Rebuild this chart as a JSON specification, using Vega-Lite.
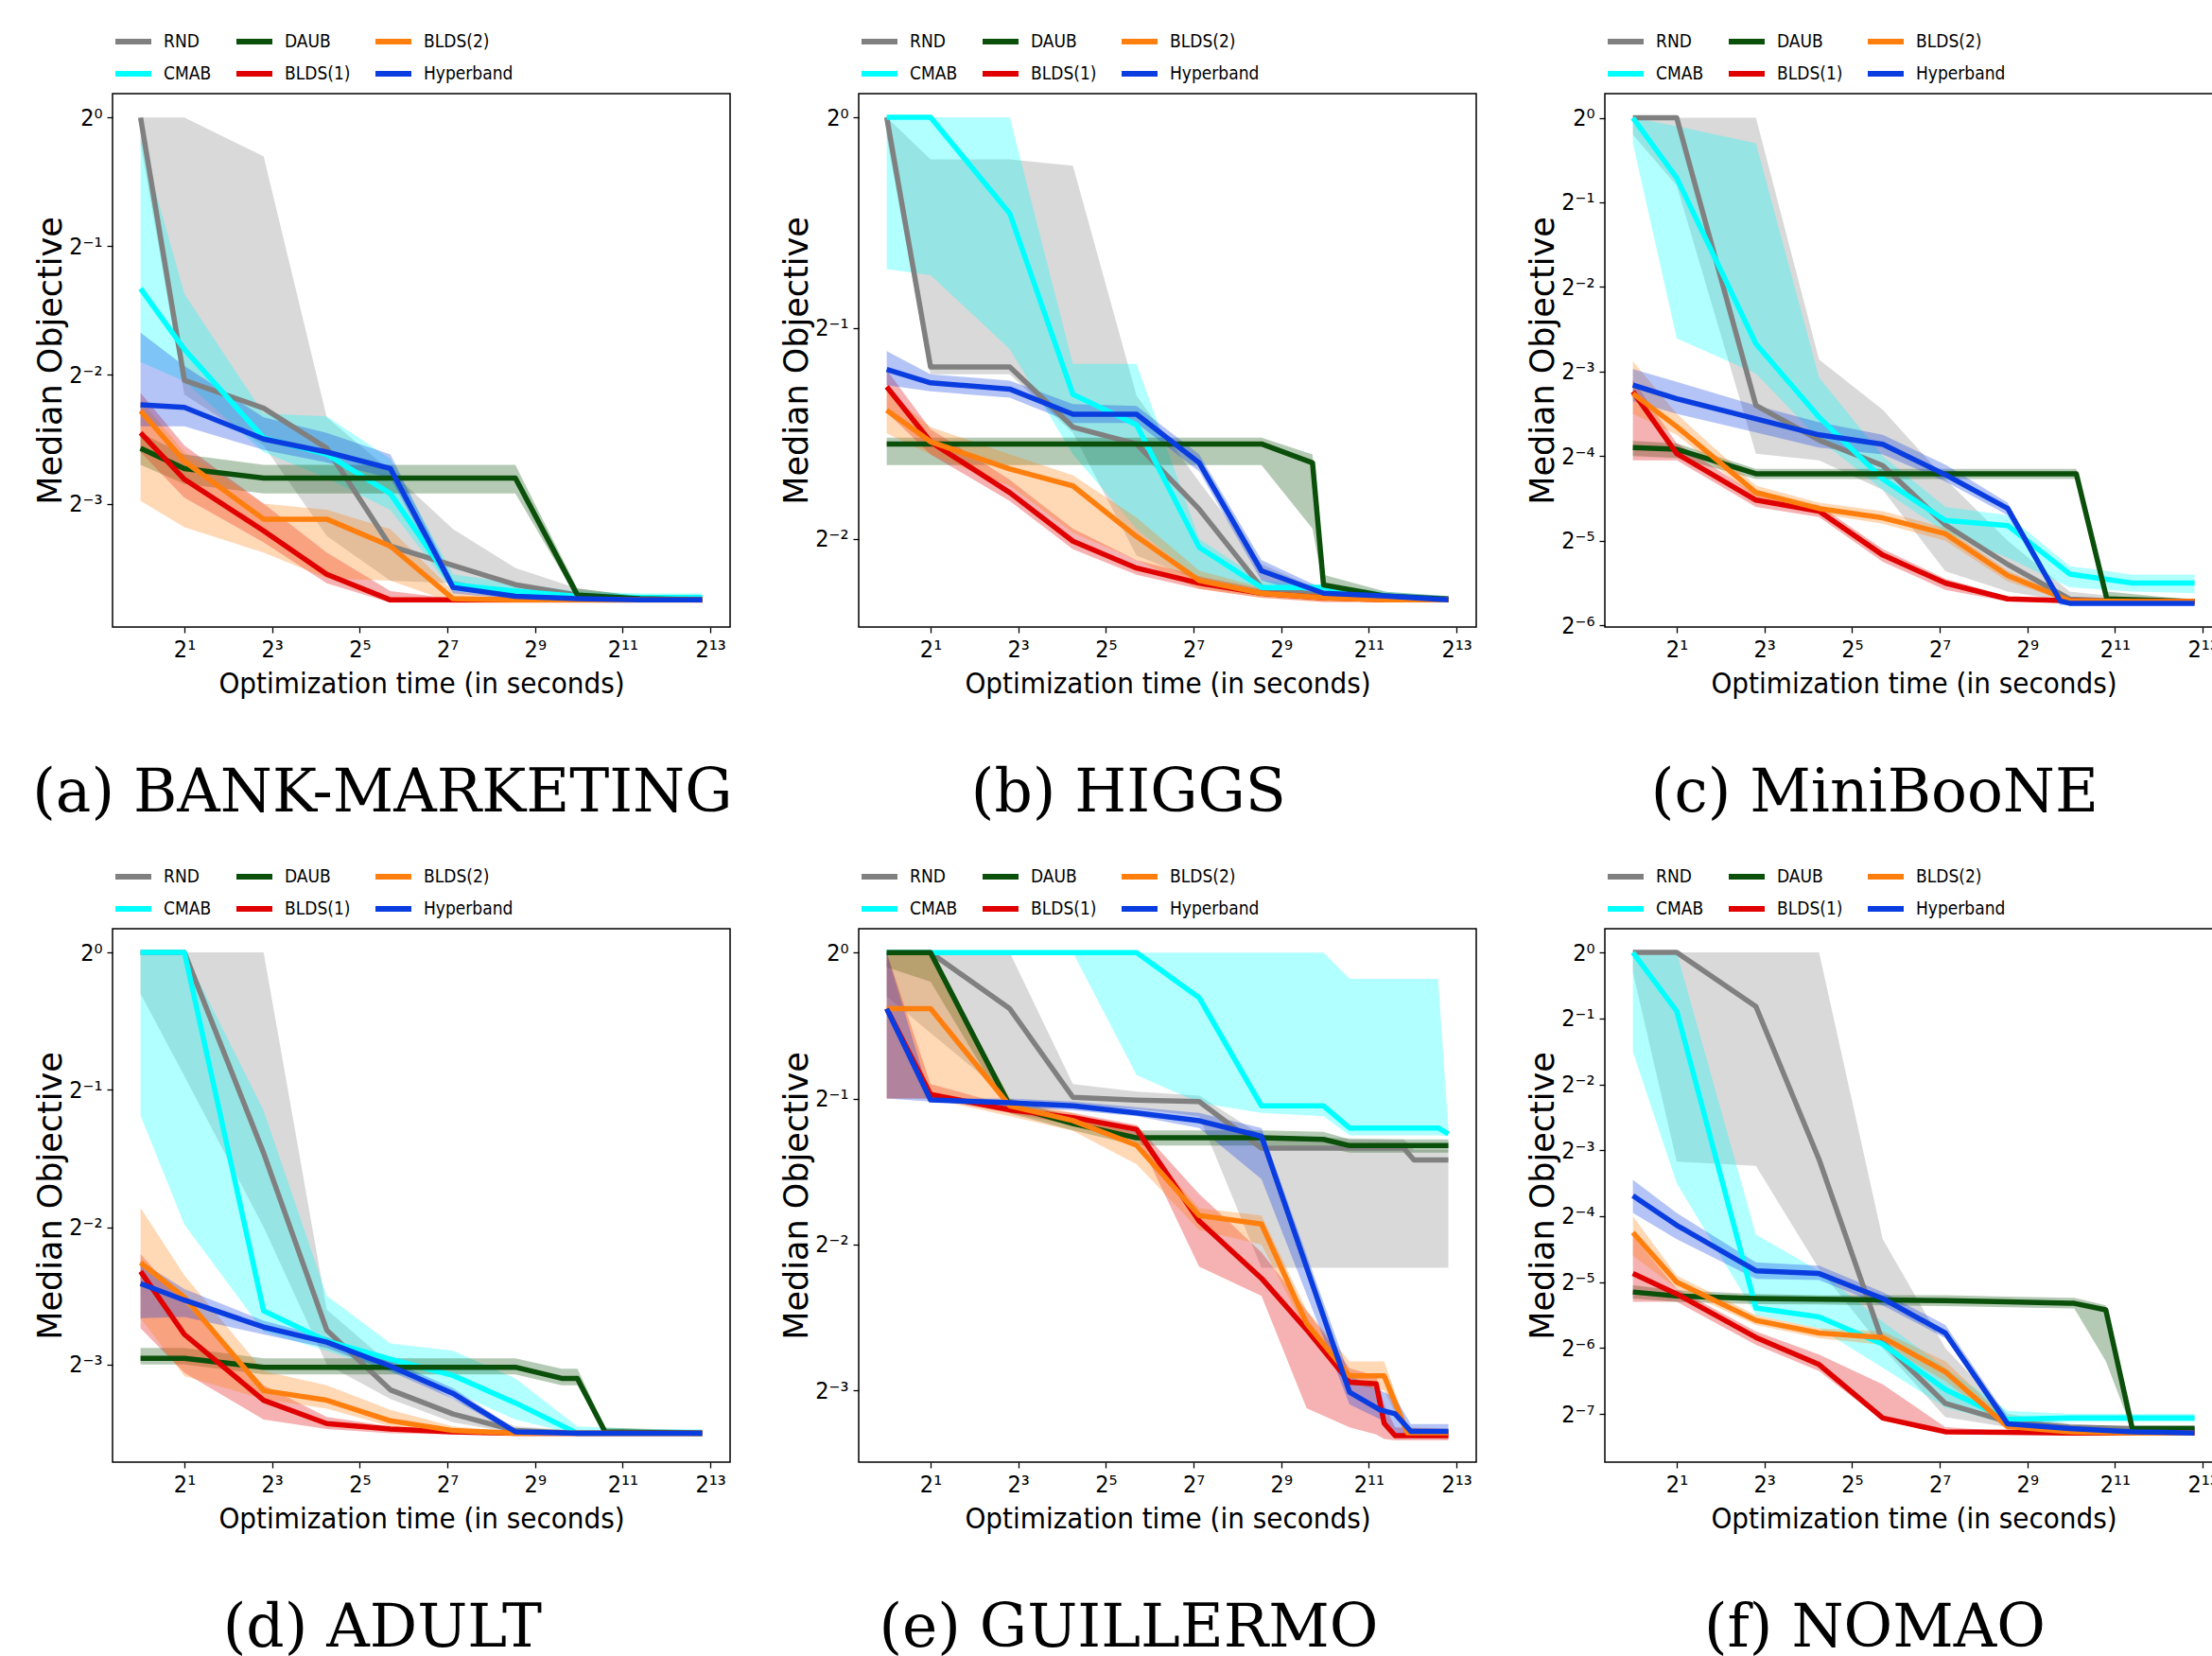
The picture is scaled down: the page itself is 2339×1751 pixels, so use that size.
{
"$schema": "https://vega.github.io/schema/vega-lite/v6.json",
"background": "white",
"padding": {"left": 33, "top": 21, "right": 0, "bottom": 0},
"data": {"values": [
{"p":"a","s":"RND","t":1,"y":1,"lo":0.871,"hi":1},
{"p":"a","s":"RND","t":2,"y":0.243,"lo":0.225,"hi":1},
{"p":"a","s":"RND","t":7,"y":0.209,"lo":0.171,"hi":0.812},
{"p":"a","s":"RND","t":19,"y":0.1685,"lo":0.105,"hi":0.199},
{"p":"a","s":"RND","t":52,"y":0.0994,"lo":0.0825,"hi":0.149},
{"p":"a","s":"RND","t":140,"y":0.0896,"lo":0.0814,"hi":0.109},
{"p":"a","s":"RND","t":375,"y":0.0808,"lo":0.077,"hi":0.0884},
{"p":"a","s":"RND","t":1000,"y":0.0764,"lo":0.0749,"hi":0.0791},
{"p":"a","s":"RND","t":2700,"y":0.0749,"lo":0.0744,"hi":0.0759},
{"p":"a","s":"RND","t":7200,"y":0.0744,"lo":0.0738,"hi":0.0754},
{"p":"a","s":"CMAB","t":1,"y":0.398,"lo":0.268,"hi":0.895},
{"p":"a","s":"CMAB","t":2,"y":0.287,"lo":0.2415,"hi":0.387},
{"p":"a","s":"CMAB","t":7,"y":0.178,"lo":0.165,"hi":0.203},
{"p":"a","s":"CMAB","t":19,"y":0.163,"lo":0.1435,"hi":0.2},
{"p":"a","s":"CMAB","t":52,"y":0.132,"lo":0.1208,"hi":0.159},
{"p":"a","s":"CMAB","t":140,"y":0.0808,"lo":0.078,"hi":0.0854},
{"p":"a","s":"CMAB","t":375,"y":0.078,"lo":0.0759,"hi":0.0814},
{"p":"a","s":"CMAB","t":1000,"y":0.0759,"lo":0.0749,"hi":0.078},
{"p":"a","s":"CMAB","t":2700,"y":0.0754,"lo":0.0744,"hi":0.077},
{"p":"a","s":"CMAB","t":7200,"y":0.0754,"lo":0.0744,"hi":0.077},
{"p":"a","s":"DAUB","t":1,"y":0.1685,"lo":0.154,"hi":0.183},
{"p":"a","s":"DAUB","t":2,"y":0.151,"lo":0.139,"hi":0.163},
{"p":"a","s":"DAUB","t":7,"y":0.1435,"lo":0.132,"hi":0.154},
{"p":"a","s":"DAUB","t":19,"y":0.1435,"lo":0.132,"hi":0.154},
{"p":"a","s":"DAUB","t":52,"y":0.1435,"lo":0.132,"hi":0.154},
{"p":"a","s":"DAUB","t":140,"y":0.1435,"lo":0.132,"hi":0.154},
{"p":"a","s":"DAUB","t":375,"y":0.1435,"lo":0.132,"hi":0.154},
{"p":"a","s":"DAUB","t":1000,"y":0.0764,"lo":0.0749,"hi":0.0791},
{"p":"a","s":"DAUB","t":2700,"y":0.0749,"lo":0.0738,"hi":0.0759},
{"p":"a","s":"DAUB","t":7200,"y":0.0744,"lo":0.0733,"hi":0.0754},
{"p":"a","s":"BLDS(1)","t":1,"y":0.183,"lo":0.165,"hi":0.227},
{"p":"a","s":"BLDS(1)","t":2,"y":0.1425,"lo":0.129,"hi":0.171},
{"p":"a","s":"BLDS(1)","t":7,"y":0.108,"lo":0.1015,"hi":0.125},
{"p":"a","s":"BLDS(1)","t":19,"y":0.0854,"lo":0.0814,"hi":0.096},
{"p":"a","s":"BLDS(1)","t":52,"y":0.0744,"lo":0.0733,"hi":0.078},
{"p":"a","s":"BLDS(1)","t":140,"y":0.0744,"lo":0.0733,"hi":0.0749},
{"p":"a","s":"BLDS(1)","t":375,"y":0.0744,"lo":0.0733,"hi":0.0749},
{"p":"a","s":"BLDS(1)","t":1000,"y":0.0744,"lo":0.0733,"hi":0.0749},
{"p":"a","s":"BLDS(1)","t":2700,"y":0.0744,"lo":0.0733,"hi":0.0749},
{"p":"a","s":"BLDS(1)","t":7200,"y":0.0744,"lo":0.0733,"hi":0.0749},
{"p":"a","s":"BLDS(2)","t":1,"y":0.206,"lo":0.127,"hi":0.218},
{"p":"a","s":"BLDS(2)","t":2,"y":0.157,"lo":0.11,"hi":0.165},
{"p":"a","s":"BLDS(2)","t":7,"y":0.115,"lo":0.096,"hi":0.125},
{"p":"a","s":"BLDS(2)","t":19,"y":0.115,"lo":0.0836,"hi":0.121},
{"p":"a","s":"BLDS(2)","t":52,"y":0.0994,"lo":0.0825,"hi":0.109},
{"p":"a","s":"BLDS(2)","t":140,"y":0.0749,"lo":0.0733,"hi":0.078},
{"p":"a","s":"BLDS(2)","t":375,"y":0.0744,"lo":0.0733,"hi":0.0754},
{"p":"a","s":"BLDS(2)","t":1000,"y":0.0744,"lo":0.0733,"hi":0.0749},
{"p":"a","s":"BLDS(2)","t":2700,"y":0.0744,"lo":0.0733,"hi":0.0749},
{"p":"a","s":"BLDS(2)","t":7200,"y":0.0744,"lo":0.0733,"hi":0.0749},
{"p":"a","s":"Hyperband","t":1,"y":0.213,"lo":0.1895,"hi":0.314},
{"p":"a","s":"Hyperband","t":2,"y":0.21,"lo":0.1895,"hi":0.2625},
{"p":"a","s":"Hyperband","t":7,"y":0.177,"lo":0.167,"hi":0.199},
{"p":"a","s":"Hyperband","t":19,"y":0.165,"lo":0.156,"hi":0.183},
{"p":"a","s":"Hyperband","t":52,"y":0.151,"lo":0.1435,"hi":0.163},
{"p":"a","s":"Hyperband","t":140,"y":0.0796,"lo":0.077,"hi":0.0825},
{"p":"a","s":"Hyperband","t":375,"y":0.0759,"lo":0.0749,"hi":0.077},
{"p":"a","s":"Hyperband","t":1000,"y":0.0749,"lo":0.0744,"hi":0.0759},
{"p":"a","s":"Hyperband","t":2700,"y":0.0744,"lo":0.0738,"hi":0.0754},
{"p":"a","s":"Hyperband","t":7200,"y":0.0744,"lo":0.0738,"hi":0.0754},

{"p":"b","s":"RND","t":1,"y":1,"lo":0.933,"hi":1},
{"p":"b","s":"RND","t":2,"y":0.44,"lo":0.4295,"hi":0.871},
{"p":"b","s":"RND","t":7,"y":0.44,"lo":0.4295,"hi":0.871},
{"p":"b","s":"RND","t":19,"y":0.361,"lo":0.354,"hi":0.853},
{"p":"b","s":"RND","t":52,"y":0.3415,"lo":0.2365,"hi":0.4},
{"p":"b","s":"RND","t":140,"y":0.2755,"lo":0.218,"hi":0.3015},
{"p":"b","s":"RND","t":375,"y":0.213,"lo":0.207,"hi":0.23},
{"p":"b","s":"RND","t":1000,"y":0.207,"lo":0.2045,"hi":0.21},
{"p":"b","s":"RND","t":2700,"y":0.206,"lo":0.2045,"hi":0.207},
{"p":"b","s":"RND","t":7200,"y":0.2045,"lo":0.203,"hi":0.206},
{"p":"b","s":"CMAB","t":1,"y":1,"lo":0.607,"hi":1},
{"p":"b","s":"CMAB","t":2,"y":1,"lo":0.595,"hi":1},
{"p":"b","s":"CMAB","t":7,"y":0.729,"lo":0.4665,"hi":1},
{"p":"b","s":"CMAB","t":19,"y":0.402,"lo":0.33,"hi":0.4445},
{"p":"b","s":"CMAB","t":52,"y":0.3635,"lo":0.2585,"hi":0.4445},
{"p":"b","s":"CMAB","t":140,"y":0.243,"lo":0.218,"hi":0.25},
{"p":"b","s":"CMAB","t":375,"y":0.213,"lo":0.207,"hi":0.218},
{"p":"b","s":"CMAB","t":1000,"y":0.213,"lo":0.206,"hi":0.2148},
{"p":"b","s":"CMAB","t":2700,"y":0.207,"lo":0.2045,"hi":0.21},
{"p":"b","s":"CMAB","t":7200,"y":0.2045,"lo":0.203,"hi":0.207},
{"p":"b","s":"DAUB","t":1,"y":0.3415,"lo":0.3185,"hi":0.3486},
{"p":"b","s":"DAUB","t":2,"y":0.3415,"lo":0.3185,"hi":0.3486},
{"p":"b","s":"DAUB","t":7,"y":0.3415,"lo":0.3185,"hi":0.3486},
{"p":"b","s":"DAUB","t":19,"y":0.3415,"lo":0.3185,"hi":0.3486},
{"p":"b","s":"DAUB","t":52,"y":0.3415,"lo":0.3185,"hi":0.3486},
{"p":"b","s":"DAUB","t":140,"y":0.3415,"lo":0.3185,"hi":0.3486},
{"p":"b","s":"DAUB","t":375,"y":0.3415,"lo":0.3185,"hi":0.3486},
{"p":"b","s":"DAUB","t":840,"y":0.321,"lo":0.2585,"hi":0.33},
{"p":"b","s":"DAUB","t":1000,"y":0.2148,"lo":0.212,"hi":0.222},
{"p":"b","s":"DAUB","t":2700,"y":0.207,"lo":0.206,"hi":0.21},
{"p":"b","s":"DAUB","t":7200,"y":0.205,"lo":0.203,"hi":0.207},
{"p":"b","s":"BLDS(1)","t":1,"y":0.412,"lo":0.379,"hi":0.4355},
{"p":"b","s":"BLDS(1)","t":2,"y":0.344,"lo":0.33,"hi":0.3585},
{"p":"b","s":"BLDS(1)","t":7,"y":0.291,"lo":0.283,"hi":0.3035},
{"p":"b","s":"BLDS(1)","t":19,"y":0.248,"lo":0.2415,"hi":0.2585},
{"p":"b","s":"BLDS(1)","t":52,"y":0.227,"lo":0.222,"hi":0.233},
{"p":"b","s":"BLDS(1)","t":140,"y":0.216,"lo":0.212,"hi":0.221},
{"p":"b","s":"BLDS(1)","t":375,"y":0.209,"lo":0.206,"hi":0.212},
{"p":"b","s":"BLDS(1)","t":1000,"y":0.206,"lo":0.203,"hi":0.207},
{"p":"b","s":"BLDS(1)","t":2700,"y":0.2045,"lo":0.203,"hi":0.206},
{"p":"b","s":"BLDS(1)","t":7200,"y":0.2045,"lo":0.203,"hi":0.206},
{"p":"b","s":"BLDS(2)","t":1,"y":0.3815,"lo":0.3536,"hi":0.406},
{"p":"b","s":"BLDS(2)","t":2,"y":0.344,"lo":0.33,"hi":0.361},
{"p":"b","s":"BLDS(2)","t":7,"y":0.3145,"lo":0.2975,"hi":0.33},
{"p":"b","s":"BLDS(2)","t":19,"y":0.2975,"lo":0.255,"hi":0.308},
{"p":"b","s":"BLDS(2)","t":52,"y":0.2518,"lo":0.233,"hi":0.268},
{"p":"b","s":"BLDS(2)","t":140,"y":0.218,"lo":0.212,"hi":0.225},
{"p":"b","s":"BLDS(2)","t":375,"y":0.209,"lo":0.206,"hi":0.213},
{"p":"b","s":"BLDS(2)","t":1000,"y":0.206,"lo":0.203,"hi":0.207},
{"p":"b","s":"BLDS(2)","t":2700,"y":0.2045,"lo":0.203,"hi":0.206},
{"p":"b","s":"BLDS(2)","t":7200,"y":0.2045,"lo":0.203,"hi":0.206},
{"p":"b","s":"Hyperband","t":1,"y":0.4365,"lo":0.4145,"hi":0.4635},
{"p":"b","s":"Hyperband","t":2,"y":0.4175,"lo":0.406,"hi":0.4295},
{"p":"b","s":"Hyperband","t":7,"y":0.409,"lo":0.3975,"hi":0.4205},
{"p":"b","s":"Hyperband","t":19,"y":0.3765,"lo":0.366,"hi":0.3895},
{"p":"b","s":"Hyperband","t":52,"y":0.3765,"lo":0.366,"hi":0.387},
{"p":"b","s":"Hyperband","t":140,"y":0.321,"lo":0.312,"hi":0.33},
{"p":"b","s":"Hyperband","t":375,"y":0.225,"lo":0.218,"hi":0.233},
{"p":"b","s":"Hyperband","t":1000,"y":0.209,"lo":0.206,"hi":0.212},
{"p":"b","s":"Hyperband","t":2700,"y":0.207,"lo":0.2045,"hi":0.209},
{"p":"b","s":"Hyperband","t":7200,"y":0.2045,"lo":0.203,"hi":0.207},

{"p":"c","s":"RND","t":1,"y":1,"lo":0.871,"hi":1},
{"p":"c","s":"RND","t":2,"y":1,"lo":0.574,"hi":1},
{"p":"c","s":"RND","t":7,"y":0.0947,"lo":0.0638,"hi":1},
{"p":"c","s":"RND","t":19,"y":0.0713,"lo":0.0604,"hi":0.1378},
{"p":"c","s":"RND","t":52,"y":0.0579,"lo":0.0474,"hi":0.0915},
{"p":"c","s":"RND","t":140,"y":0.0356,"lo":0.02434,"hi":0.0518},
{"p":"c","s":"RND","t":375,"y":0.02575,"lo":0.0206,"hi":0.03125},
{"p":"c","s":"RND","t":1000,"y":0.01938,"lo":0.01897,"hi":0.0206},
{"p":"c","s":"RND","t":2700,"y":0.01897,"lo":0.01872,"hi":0.0195},
{"p":"c","s":"RND","t":7200,"y":0.01884,"lo":0.01859,"hi":0.01925},
{"p":"c","s":"CMAB","t":1,"y":1,"lo":0.812,"hi":1},
{"p":"c","s":"CMAB","t":2,"y":0.611,"lo":0.164,"hi":0.933},
{"p":"c","s":"CMAB","t":7,"y":0.157,"lo":0.123,"hi":0.812},
{"p":"c","s":"CMAB","t":19,"y":0.086,"lo":0.0718,"hi":0.119},
{"p":"c","s":"CMAB","t":52,"y":0.0518,"lo":0.0474,"hi":0.0625},
{"p":"c","s":"CMAB","t":140,"y":0.0369,"lo":0.0335,"hi":0.04125},
{"p":"c","s":"CMAB","t":375,"y":0.0354,"lo":0.0272,"hi":0.0385},
{"p":"c","s":"CMAB","t":1000,"y":0.0238,"lo":0.02134,"hi":0.0254},
{"p":"c","s":"CMAB","t":2700,"y":0.0221,"lo":0.0206,"hi":0.0237},
{"p":"c","s":"CMAB","t":7200,"y":0.0221,"lo":0.02034,"hi":0.0237},
{"p":"c","s":"DAUB","t":1,"y":0.067,"lo":0.0625,"hi":0.0708},
{"p":"c","s":"DAUB","t":2,"y":0.0661,"lo":0.0616,"hi":0.0694},
{"p":"c","s":"DAUB","t":7,"y":0.0541,"lo":0.0518,"hi":0.0563},
{"p":"c","s":"DAUB","t":19,"y":0.0541,"lo":0.0518,"hi":0.0563},
{"p":"c","s":"DAUB","t":52,"y":0.0541,"lo":0.0518,"hi":0.0563},
{"p":"c","s":"DAUB","t":140,"y":0.0541,"lo":0.0518,"hi":0.0563},
{"p":"c","s":"DAUB","t":375,"y":0.0541,"lo":0.0518,"hi":0.0563},
{"p":"c","s":"DAUB","t":1110,"y":0.0541,"lo":0.0518,"hi":0.0563},
{"p":"c","s":"DAUB","t":1800,"y":0.0194,"lo":0.01872,"hi":0.0206},
{"p":"c","s":"DAUB","t":7200,"y":0.019,"lo":0.01872,"hi":0.01925},
{"p":"c","s":"BLDS(1)","t":1,"y":0.106,"lo":0.0604,"hi":0.1166},
{"p":"c","s":"BLDS(1)","t":2,"y":0.0638,"lo":0.0604,"hi":0.0694},
{"p":"c","s":"BLDS(1)","t":7,"y":0.0436,"lo":0.04125,"hi":0.04575},
{"p":"c","s":"BLDS(1)","t":19,"y":0.0398,"lo":0.0379,"hi":0.0418},
{"p":"c","s":"BLDS(1)","t":52,"y":0.0278,"lo":0.0263,"hi":0.0292},
{"p":"c","s":"BLDS(1)","t":140,"y":0.0221,"lo":0.0209,"hi":0.0229},
{"p":"c","s":"BLDS(1)","t":375,"y":0.0194,"lo":0.019,"hi":0.0198},
{"p":"c","s":"BLDS(1)","t":1000,"y":0.0191,"lo":0.01884,"hi":0.01925},
{"p":"c","s":"BLDS(1)","t":2700,"y":0.019,"lo":0.01872,"hi":0.0191},
{"p":"c","s":"BLDS(1)","t":7200,"y":0.019,"lo":0.01872,"hi":0.0191},
{"p":"c","s":"BLDS(2)","t":1,"y":0.1044,"lo":0.0884,"hi":0.136},
{"p":"c","s":"BLDS(2)","t":2,"y":0.0796,"lo":0.0744,"hi":0.0884},
{"p":"c","s":"BLDS(2)","t":7,"y":0.0464,"lo":0.0442,"hi":0.0491},
{"p":"c","s":"BLDS(2)","t":19,"y":0.0407,"lo":0.039,"hi":0.0427},
{"p":"c","s":"BLDS(2)","t":52,"y":0.0377,"lo":0.0359,"hi":0.0398},
{"p":"c","s":"BLDS(2)","t":140,"y":0.0331,"lo":0.03125,"hi":0.0347},
{"p":"c","s":"BLDS(2)","t":375,"y":0.0235,"lo":0.0224,"hi":0.0245},
{"p":"c","s":"BLDS(2)","t":1000,"y":0.0191,"lo":0.01884,"hi":0.0195},
{"p":"c","s":"BLDS(2)","t":2700,"y":0.019,"lo":0.01872,"hi":0.01925},
{"p":"c","s":"BLDS(2)","t":7200,"y":0.019,"lo":0.01872,"hi":0.01925},
{"p":"c","s":"Hyperband","t":1,"y":0.112,"lo":0.0981,"hi":0.1275},
{"p":"c","s":"Hyperband","t":2,"y":0.1,"lo":0.0884,"hi":0.115},
{"p":"c","s":"Hyperband","t":7,"y":0.0848,"lo":0.0759,"hi":0.0947},
{"p":"c","s":"Hyperband","t":19,"y":0.0744,"lo":0.067,"hi":0.0825},
{"p":"c","s":"Hyperband","t":52,"y":0.0689,"lo":0.0634,"hi":0.0744},
{"p":"c","s":"Hyperband","t":140,"y":0.0537,"lo":0.0508,"hi":0.0583},
{"p":"c","s":"Hyperband","t":375,"y":0.0407,"lo":0.0385,"hi":0.0427},
{"p":"c","s":"Hyperband","t":860,"y":0.0191,"lo":0.01844,"hi":0.0195},
{"p":"c","s":"Hyperband","t":1000,"y":0.01872,"lo":0.01844,"hi":0.01925},
{"p":"c","s":"Hyperband","t":2700,"y":0.01872,"lo":0.01844,"hi":0.01925},
{"p":"c","s":"Hyperband","t":7200,"y":0.01872,"lo":0.01844,"hi":0.01925},

{"p":"d","s":"RND","t":1,"y":1,"lo":0.812,"hi":1},
{"p":"d","s":"RND","t":2,"y":1,"lo":0.536,"hi":1},
{"p":"d","s":"RND","t":7,"y":0.3635,"lo":0.25,"hi":1},
{"p":"d","s":"RND","t":19,"y":0.1487,"lo":0.125,"hi":0.165},
{"p":"d","s":"RND","t":52,"y":0.11,"lo":0.105,"hi":0.125},
{"p":"d","s":"RND","t":140,"y":0.0974,"lo":0.0934,"hi":0.105},
{"p":"d","s":"RND","t":375,"y":0.0896,"lo":0.0884,"hi":0.0915},
{"p":"d","s":"RND","t":1000,"y":0.0884,"lo":0.0878,"hi":0.0896},
{"p":"d","s":"RND","t":2700,"y":0.0884,"lo":0.0878,"hi":0.089},
{"p":"d","s":"RND","t":7200,"y":0.0884,"lo":0.0878,"hi":0.089},
{"p":"d","s":"CMAB","t":1,"y":1,"lo":0.4385,"hi":1},
{"p":"d","s":"CMAB","t":2,"y":1,"lo":0.2535,"hi":1},
{"p":"d","s":"CMAB","t":7,"y":0.164,"lo":0.1475,"hi":0.4505},
{"p":"d","s":"CMAB","t":19,"y":0.1408,"lo":0.134,"hi":0.177},
{"p":"d","s":"CMAB","t":52,"y":0.1285,"lo":0.1208,"hi":0.139},
{"p":"d","s":"CMAB","t":140,"y":0.1183,"lo":0.109,"hi":0.134},
{"p":"d","s":"CMAB","t":375,"y":0.103,"lo":0.0947,"hi":0.1166},
{"p":"d","s":"CMAB","t":1000,"y":0.0884,"lo":0.0878,"hi":0.0915},
{"p":"d","s":"CMAB","t":2700,"y":0.0884,"lo":0.0878,"hi":0.0903},
{"p":"d","s":"CMAB","t":7200,"y":0.0884,"lo":0.0878,"hi":0.0903},
{"p":"d","s":"DAUB","t":1,"y":0.129,"lo":0.125,"hi":0.136},
{"p":"d","s":"DAUB","t":2,"y":0.129,"lo":0.125,"hi":0.136},
{"p":"d","s":"DAUB","t":7,"y":0.1233,"lo":0.119,"hi":0.129},
{"p":"d","s":"DAUB","t":19,"y":0.1233,"lo":0.119,"hi":0.129},
{"p":"d","s":"DAUB","t":52,"y":0.1233,"lo":0.119,"hi":0.129},
{"p":"d","s":"DAUB","t":140,"y":0.1233,"lo":0.119,"hi":0.129},
{"p":"d","s":"DAUB","t":375,"y":0.1233,"lo":0.119,"hi":0.129},
{"p":"d","s":"DAUB","t":780,"y":0.1166,"lo":0.1126,"hi":0.1224},
{"p":"d","s":"DAUB","t":1000,"y":0.1166,"lo":0.1126,"hi":0.1224},
{"p":"d","s":"DAUB","t":1550,"y":0.089,"lo":0.0878,"hi":0.0909},
{"p":"d","s":"DAUB","t":7200,"y":0.0884,"lo":0.0878,"hi":0.0896},
{"p":"d","s":"BLDS(1)","t":1,"y":0.2,"lo":0.15,"hi":0.218},
{"p":"d","s":"BLDS(1)","t":2,"y":0.1455,"lo":0.12,"hi":0.171},
{"p":"d","s":"BLDS(1)","t":7,"y":0.1044,"lo":0.0947,"hi":0.1126},
{"p":"d","s":"BLDS(1)","t":19,"y":0.0928,"lo":0.0903,"hi":0.096},
{"p":"d","s":"BLDS(1)","t":52,"y":0.0903,"lo":0.0884,"hi":0.0915},
{"p":"d","s":"BLDS(1)","t":140,"y":0.089,"lo":0.0878,"hi":0.0896},
{"p":"d","s":"BLDS(1)","t":375,"y":0.0884,"lo":0.0878,"hi":0.089},
{"p":"d","s":"BLDS(1)","t":1000,"y":0.0884,"lo":0.0878,"hi":0.089},
{"p":"d","s":"BLDS(1)","t":2700,"y":0.0884,"lo":0.0878,"hi":0.089},
{"p":"d","s":"BLDS(1)","t":7200,"y":0.0884,"lo":0.0878,"hi":0.089},
{"p":"d","s":"BLDS(2)","t":1,"y":0.209,"lo":0.158,"hi":0.2755},
{"p":"d","s":"BLDS(2)","t":2,"y":0.1755,"lo":0.118,"hi":0.196},
{"p":"d","s":"BLDS(2)","t":7,"y":0.1096,"lo":0.105,"hi":0.121},
{"p":"d","s":"BLDS(2)","t":19,"y":0.1044,"lo":0.1,"hi":0.1126},
{"p":"d","s":"BLDS(2)","t":52,"y":0.0941,"lo":0.0915,"hi":0.0994},
{"p":"d","s":"BLDS(2)","t":140,"y":0.0896,"lo":0.0884,"hi":0.0915},
{"p":"d","s":"BLDS(2)","t":375,"y":0.0884,"lo":0.0878,"hi":0.089},
{"p":"d","s":"BLDS(2)","t":1000,"y":0.0884,"lo":0.0878,"hi":0.089},
{"p":"d","s":"BLDS(2)","t":2700,"y":0.0884,"lo":0.0878,"hi":0.089},
{"p":"d","s":"BLDS(2)","t":7200,"y":0.0884,"lo":0.0878,"hi":0.089},
{"p":"d","s":"Hyperband","t":1,"y":0.188,"lo":0.158,"hi":0.21},
{"p":"d","s":"Hyperband","t":2,"y":0.173,"lo":0.159,"hi":0.183},
{"p":"d","s":"Hyperband","t":7,"y":0.151,"lo":0.1455,"hi":0.156},
{"p":"d","s":"Hyperband","t":19,"y":0.14,"lo":0.136,"hi":0.1435},
{"p":"d","s":"Hyperband","t":52,"y":0.124,"lo":0.1208,"hi":0.1275},
{"p":"d","s":"Hyperband","t":140,"y":0.108,"lo":0.105,"hi":0.111},
{"p":"d","s":"Hyperband","t":375,"y":0.089,"lo":0.0878,"hi":0.0903},
{"p":"d","s":"Hyperband","t":1000,"y":0.0884,"lo":0.0878,"hi":0.089},
{"p":"d","s":"Hyperband","t":2700,"y":0.0884,"lo":0.0878,"hi":0.089},
{"p":"d","s":"Hyperband","t":7200,"y":0.0884,"lo":0.0878,"hi":0.089},

{"p":"e","s":"RND","t":1,"y":1,"lo":0.812,"hi":1},
{"p":"e","s":"RND","t":2,"y":1,"lo":0.683,"hi":1},
{"p":"e","s":"RND","t":7,"y":0.766,"lo":0.5,"hi":1},
{"p":"e","s":"RND","t":19,"y":0.503,"lo":0.483,"hi":0.536},
{"p":"e","s":"RND","t":52,"y":0.4965,"lo":0.476,"hi":0.517},
{"p":"e","s":"RND","t":140,"y":0.493,"lo":0.46,"hi":0.507},
{"p":"e","s":"RND","t":375,"y":0.395,"lo":0.224,"hi":0.42},
{"p":"e","s":"RND","t":1000,"y":0.395,"lo":0.224,"hi":0.415},
{"p":"e","s":"RND","t":3560,"y":0.395,"lo":0.224,"hi":0.412},
{"p":"e","s":"RND","t":4180,"y":0.3735,"lo":0.224,"hi":0.392},
{"p":"e","s":"RND","t":7200,"y":0.3735,"lo":0.224,"hi":0.392},
{"p":"e","s":"CMAB","t":1,"y":1,"lo":1,"hi":1},
{"p":"e","s":"CMAB","t":2,"y":1,"lo":1,"hi":1},
{"p":"e","s":"CMAB","t":7,"y":1,"lo":1,"hi":1},
{"p":"e","s":"CMAB","t":19,"y":1,"lo":1,"hi":1},
{"p":"e","s":"CMAB","t":52,"y":1,"lo":0.559,"hi":1},
{"p":"e","s":"CMAB","t":140,"y":0.807,"lo":0.49,"hi":1},
{"p":"e","s":"CMAB","t":375,"y":0.483,"lo":0.467,"hi":1},
{"p":"e","s":"CMAB","t":1000,"y":0.483,"lo":0.46,"hi":1},
{"p":"e","s":"CMAB","t":1510,"y":0.435,"lo":0.42,"hi":0.883},
{"p":"e","s":"CMAB","t":6120,"y":0.435,"lo":0.42,"hi":0.883},
{"p":"e","s":"CMAB","t":7200,"y":0.423,"lo":0.418,"hi":0.435},
{"p":"e","s":"DAUB","t":1,"y":1,"lo":0.933,"hi":1},
{"p":"e","s":"DAUB","t":2,"y":1,"lo":0.871,"hi":1},
{"p":"e","s":"DAUB","t":7,"y":0.483,"lo":0.466,"hi":0.5},
{"p":"e","s":"DAUB","t":19,"y":0.444,"lo":0.43,"hi":0.458},
{"p":"e","s":"DAUB","t":52,"y":0.415,"lo":0.4,"hi":0.43},
{"p":"e","s":"DAUB","t":140,"y":0.415,"lo":0.4,"hi":0.43},
{"p":"e","s":"DAUB","t":375,"y":0.415,"lo":0.4,"hi":0.43},
{"p":"e","s":"DAUB","t":1000,"y":0.412,"lo":0.397,"hi":0.427},
{"p":"e","s":"DAUB","t":1510,"y":0.4,"lo":0.387,"hi":0.412},
{"p":"e","s":"DAUB","t":7200,"y":0.4,"lo":0.387,"hi":0.412},
{"p":"e","s":"BLDS(1)","t":1,"y":0.766,"lo":0.5,"hi":1},
{"p":"e","s":"BLDS(1)","t":2,"y":0.51,"lo":0.5,"hi":0.536},
{"p":"e","s":"BLDS(1)","t":7,"y":0.474,"lo":0.467,"hi":0.483},
{"p":"e","s":"BLDS(1)","t":19,"y":0.457,"lo":0.441,"hi":0.467},
{"p":"e","s":"BLDS(1)","t":52,"y":0.432,"lo":0.42,"hi":0.441},
{"p":"e","s":"BLDS(1)","t":140,"y":0.2795,"lo":0.225,"hi":0.318},
{"p":"e","s":"BLDS(1)","t":375,"y":0.213,"lo":0.196,"hi":0.241},
{"p":"e","s":"BLDS(1)","t":765,"y":0.167,"lo":0.115,"hi":0.183},
{"p":"e","s":"BLDS(1)","t":1510,"y":0.13,"lo":0.105,"hi":0.139},
{"p":"e","s":"BLDS(1)","t":2300,"y":0.129,"lo":0.1015,"hi":0.134},
{"p":"e","s":"BLDS(1)","t":2610,"y":0.107,"lo":0.0994,"hi":0.117},
{"p":"e","s":"BLDS(1)","t":3100,"y":0.1009,"lo":0.0987,"hi":0.105},
{"p":"e","s":"BLDS(1)","t":7200,"y":0.1009,"lo":0.0987,"hi":0.104},
{"p":"e","s":"BLDS(2)","t":1,"y":0.766,"lo":0.5,"hi":1},
{"p":"e","s":"BLDS(2)","t":2,"y":0.766,"lo":0.5,"hi":1},
{"p":"e","s":"BLDS(2)","t":7,"y":0.483,"lo":0.46,"hi":0.5},
{"p":"e","s":"BLDS(2)","t":19,"y":0.4505,"lo":0.429,"hi":0.467},
{"p":"e","s":"BLDS(2)","t":52,"y":0.4005,"lo":0.366,"hi":0.42},
{"p":"e","s":"BLDS(2)","t":140,"y":0.287,"lo":0.268,"hi":0.297},
{"p":"e","s":"BLDS(2)","t":375,"y":0.2755,"lo":0.25,"hi":0.287},
{"p":"e","s":"BLDS(2)","t":765,"y":0.172,"lo":0.165,"hi":0.183},
{"p":"e","s":"BLDS(2)","t":1510,"y":0.134,"lo":0.129,"hi":0.1435},
{"p":"e","s":"BLDS(2)","t":2610,"y":0.134,"lo":0.125,"hi":0.1435},
{"p":"e","s":"BLDS(2)","t":3770,"y":0.1023,"lo":0.1,"hi":0.105},
{"p":"e","s":"BLDS(2)","t":7200,"y":0.1023,"lo":0.0994,"hi":0.1044},
{"p":"e","s":"Hyperband","t":1,"y":0.766,"lo":0.5,"hi":1},
{"p":"e","s":"Hyperband","t":2,"y":0.497,"lo":0.493,"hi":0.5},
{"p":"e","s":"Hyperband","t":7,"y":0.49,"lo":0.48,"hi":0.5},
{"p":"e","s":"Hyperband","t":19,"y":0.483,"lo":0.473,"hi":0.493},
{"p":"e","s":"Hyperband","t":52,"y":0.467,"lo":0.46,"hi":0.48},
{"p":"e","s":"Hyperband","t":140,"y":0.45,"lo":0.435,"hi":0.467},
{"p":"e","s":"Hyperband","t":375,"y":0.418,"lo":0.341,"hi":0.435},
{"p":"e","s":"Hyperband","t":1510,"y":0.124,"lo":0.117,"hi":0.134},
{"p":"e","s":"Hyperband","t":2450,"y":0.114,"lo":0.109,"hi":0.125},
{"p":"e","s":"Hyperband","t":3100,"y":0.112,"lo":0.1015,"hi":0.121},
{"p":"e","s":"Hyperband","t":3980,"y":0.103,"lo":0.1,"hi":0.1066},
{"p":"e","s":"Hyperband","t":7200,"y":0.103,"lo":0.1,"hi":0.1066},

{"p":"f","s":"RND","t":1,"y":1,"lo":0.812,"hi":1},
{"p":"f","s":"RND","t":2,"y":1,"lo":0.111,"hi":1},
{"p":"f","s":"RND","t":7,"y":0.566,"lo":0.106,"hi":1},
{"p":"f","s":"RND","t":19,"y":0.1135,"lo":0.0359,"hi":1},
{"p":"f","s":"RND","t":52,"y":0.01665,"lo":0.015625,"hi":0.0491},
{"p":"f","s":"RND","t":140,"y":0.00873,"lo":0.00755,"hi":0.015625},
{"p":"f","s":"RND","t":375,"y":0.00719,"lo":0.0068,"hi":0.0078125},
{"p":"f","s":"RND","t":1000,"y":0.0068,"lo":0.00657,"hi":0.00704},
{"p":"f","s":"RND","t":2700,"y":0.00671,"lo":0.00657,"hi":0.0068},
{"p":"f","s":"RND","t":7200,"y":0.00671,"lo":0.00657,"hi":0.0068},
{"p":"f","s":"CMAB","t":1,"y":1,"lo":0.351,"hi":1},
{"p":"f","s":"CMAB","t":2,"y":0.54,"lo":0.0884,"hi":1},
{"p":"f","s":"CMAB","t":7,"y":0.0238,"lo":0.0221,"hi":0.0515},
{"p":"f","s":"CMAB","t":19,"y":0.02166,"lo":0.01925,"hi":0.0352},
{"p":"f","s":"CMAB","t":52,"y":0.01628,"lo":0.0127,"hi":0.0206},
{"p":"f","s":"CMAB","t":140,"y":0.0101,"lo":0.00837,"hi":0.0127},
{"p":"f","s":"CMAB","t":375,"y":0.00739,"lo":0.00704,"hi":0.00808},
{"p":"f","s":"CMAB","t":1000,"y":0.00749,"lo":0.00719,"hi":0.0078125},
{"p":"f","s":"CMAB","t":2700,"y":0.00749,"lo":0.00719,"hi":0.0078125},
{"p":"f","s":"CMAB","t":7200,"y":0.00749,"lo":0.00719,"hi":0.0078125},
{"p":"f","s":"DAUB","t":1,"y":0.02816,"lo":0.0263,"hi":0.0302},
{"p":"f","s":"DAUB","t":2,"y":0.027,"lo":0.0254,"hi":0.0287},
{"p":"f","s":"DAUB","t":7,"y":0.0263,"lo":0.0248,"hi":0.0276},
{"p":"f","s":"DAUB","t":19,"y":0.0261,"lo":0.0247,"hi":0.0272},
{"p":"f","s":"DAUB","t":52,"y":0.0259,"lo":0.0245,"hi":0.0272},
{"p":"f","s":"DAUB","t":140,"y":0.02575,"lo":0.0243,"hi":0.0272},
{"p":"f","s":"DAUB","t":375,"y":0.0254,"lo":0.024,"hi":0.0268},
{"p":"f","s":"DAUB","t":1000,"y":0.025,"lo":0.0237,"hi":0.0265},
{"p":"f","s":"DAUB","t":1075,"y":0.025,"lo":0.0237,"hi":0.0265},
{"p":"f","s":"DAUB","t":1770,"y":0.02334,"lo":0.0136,"hi":0.0245},
{"p":"f","s":"DAUB","t":2690,"y":0.00671,"lo":0.00657,"hi":0.0069},
{"p":"f","s":"DAUB","t":7200,"y":0.00671,"lo":0.00657,"hi":0.0069},
{"p":"f","s":"BLDS(1)","t":1,"y":0.0342,"lo":0.0254,"hi":0.0508},
{"p":"f","s":"BLDS(1)","t":2,"y":0.0276,"lo":0.0254,"hi":0.0292},
{"p":"f","s":"BLDS(1)","t":7,"y":0.01747,"lo":0.01616,"hi":0.0186},
{"p":"f","s":"BLDS(1)","t":19,"y":0.01314,"lo":0.01227,"hi":0.01458},
{"p":"f","s":"BLDS(1)","t":52,"y":0.00749,"lo":0.00729,"hi":0.01067},
{"p":"f","s":"BLDS(1)","t":140,"y":0.00648,"lo":0.00634,"hi":0.0068},
{"p":"f","s":"BLDS(1)","t":375,"y":0.00644,"lo":0.00634,"hi":0.00652},
{"p":"f","s":"BLDS(1)","t":1000,"y":0.00639,"lo":0.00634,"hi":0.00644},
{"p":"f","s":"BLDS(1)","t":2700,"y":0.00639,"lo":0.00634,"hi":0.00644},
{"p":"f","s":"BLDS(1)","t":7200,"y":0.00639,"lo":0.00634,"hi":0.00644},
{"p":"f","s":"BLDS(2)","t":1,"y":0.0526,"lo":0.04125,"hi":0.0625},
{"p":"f","s":"BLDS(2)","t":2,"y":0.03125,"lo":0.0292,"hi":0.0335},
{"p":"f","s":"BLDS(2)","t":7,"y":0.0209,"lo":0.0199,"hi":0.0221},
{"p":"f","s":"BLDS(2)","t":19,"y":0.0183,"lo":0.01734,"hi":0.01925},
{"p":"f","s":"BLDS(2)","t":52,"y":0.01747,"lo":0.01616,"hi":0.0186},
{"p":"f","s":"BLDS(2)","t":140,"y":0.01217,"lo":0.01105,"hi":0.0136},
{"p":"f","s":"BLDS(2)","t":375,"y":0.00685,"lo":0.00657,"hi":0.00729},
{"p":"f","s":"BLDS(2)","t":1000,"y":0.00648,"lo":0.00634,"hi":0.00662},
{"p":"f","s":"BLDS(2)","t":2700,"y":0.00639,"lo":0.00634,"hi":0.00648},
{"p":"f","s":"BLDS(2)","t":7200,"y":0.00639,"lo":0.00634,"hi":0.00648},
{"p":"f","s":"Hyperband","t":1,"y":0.0775,"lo":0.0646,"hi":0.0915},
{"p":"f","s":"Hyperband","t":2,"y":0.0568,"lo":0.0491,"hi":0.0646},
{"p":"f","s":"Hyperband","t":7,"y":0.0352,"lo":0.0323,"hi":0.0385},
{"p":"f","s":"Hyperband","t":19,"y":0.0342,"lo":0.0319,"hi":0.0372},
{"p":"f","s":"Hyperband","t":52,"y":0.0263,"lo":0.0245,"hi":0.02816},
{"p":"f","s":"Hyperband","t":140,"y":0.0183,"lo":0.01734,"hi":0.0199},
{"p":"f","s":"Hyperband","t":375,"y":0.00704,"lo":0.0068,"hi":0.00755},
{"p":"f","s":"Hyperband","t":1000,"y":0.00671,"lo":0.00652,"hi":0.0069},
{"p":"f","s":"Hyperband","t":2700,"y":0.00648,"lo":0.00634,"hi":0.00666},
{"p":"f","s":"Hyperband","t":7200,"y":0.00639,"lo":0.00626,"hi":0.00657}
]},
"columns": 3,
"spacing": {"row": 319, "column": 136},
"bounds": "flush",
"resolve": {"scale": {"color": "independent"}, "legend": {"color": "independent"}},
"concat": [
{"width": 653, "height": 564, "title": {"text": "(a) BANK-MARKETING"},
 "transform": [{"filter": "datum.p === 'a'"}],
 "encoding": {"x": {"field": "t", "type": "quantitative", "scale": {"type": "log", "base": 2, "domain": [0.642, 11190], "nice": false}, "axis": {"values": [2, 8, 32, 128, 512, 2048, 8192], "labelExpr": "'2' + ['⁰','¹','²','³','⁴','⁵','⁶','⁷','⁸','⁹','¹⁰','¹¹','¹²','¹³'][round(log(datum.value)/LN2)]", "title": "Optimization time (in seconds)"}},
  "color": {"field": "s", "type": "nominal", "scale": {"domain": ["RND","DAUB","BLDS(2)","CMAB","BLDS(1)","Hyperband"], "range": ["#808080","#0a4f0a","#ff7f0e","#00ffff","#e00000","#0a3de0"]}, "legend": {"title": null, "orient": "top", "columns": 3}}},
 "layer": [
  {"mark": {"type": "area", "opacity": 0.3, "clip": true},
   "encoding": {"y": {"field": "lo", "type": "quantitative", "scale": {"type": "log", "base": 2, "domain": [0.0643, 1.138], "nice": false}, "axis": {"values": [1, 0.5, 0.25, 0.125], "labelExpr": "'2' + ['⁰','⁻¹','⁻²','⁻³','⁻⁴','⁻⁵','⁻⁶','⁻⁷'][round(-log(datum.value)/LN2)]", "title": "Median Objective"}},
    "y2": {"field": "hi"}}},
  {"mark": {"type": "line", "strokeWidth": 5.5, "clip": true, "strokeJoin": "round"},
   "encoding": {"y": {"field": "y", "type": "quantitative", "scale": {"type": "log", "base": 2, "domain": [0.0643, 1.138], "nice": false}, "axis": {"values": [1, 0.5, 0.25, 0.125], "labelExpr": "'2' + ['⁰','⁻¹','⁻²','⁻³','⁻⁴','⁻⁵','⁻⁶','⁻⁷'][round(-log(datum.value)/LN2)]", "title": "Median Objective"}}}}
 ]},
{"width": 653, "height": 564, "title": {"text": "(b) HIGGS"},
 "transform": [{"filter": "datum.p === 'b'"}],
 "encoding": {"x": {"field": "t", "type": "quantitative", "scale": {"type": "log", "base": 2, "domain": [0.642, 11190], "nice": false}, "axis": {"values": [2, 8, 32, 128, 512, 2048, 8192], "labelExpr": "'2' + ['⁰','¹','²','³','⁴','⁵','⁶','⁷','⁸','⁹','¹⁰','¹¹','¹²','¹³'][round(log(datum.value)/LN2)]", "title": "Optimization time (in seconds)"}},
  "color": {"field": "s", "type": "nominal", "scale": {"domain": ["RND","DAUB","BLDS(2)","CMAB","BLDS(1)","Hyperband"], "range": ["#808080","#0a4f0a","#ff7f0e","#00ffff","#e00000","#0a3de0"]}, "legend": {"title": null, "orient": "top", "columns": 3}}},
 "layer": [
  {"mark": {"type": "area", "opacity": 0.3, "clip": true},
   "encoding": {"y": {"field": "lo", "type": "quantitative", "scale": {"type": "log", "base": 2, "domain": [0.187, 1.081], "nice": false}, "axis": {"values": [1, 0.5, 0.25], "labelExpr": "'2' + ['⁰','⁻¹','⁻²','⁻³','⁻⁴','⁻⁵','⁻⁶','⁻⁷'][round(-log(datum.value)/LN2)]", "title": "Median Objective"}},
    "y2": {"field": "hi"}}},
  {"mark": {"type": "line", "strokeWidth": 5.5, "clip": true, "strokeJoin": "round"},
   "encoding": {"y": {"field": "y", "type": "quantitative", "scale": {"type": "log", "base": 2, "domain": [0.187, 1.081], "nice": false}, "axis": {"values": [1, 0.5, 0.25], "labelExpr": "'2' + ['⁰','⁻¹','⁻²','⁻³','⁻⁴','⁻⁵','⁻⁶','⁻⁷'][round(-log(datum.value)/LN2)]", "title": "Median Objective"}}}}
 ]},
{"width": 653, "height": 564, "title": {"text": "(c) MiniBooNE"},
 "transform": [{"filter": "datum.p === 'c'"}],
 "encoding": {"x": {"field": "t", "type": "quantitative", "scale": {"type": "log", "base": 2, "domain": [0.642, 11190], "nice": false}, "axis": {"values": [2, 8, 32, 128, 512, 2048, 8192], "labelExpr": "'2' + ['⁰','¹','²','³','⁴','⁵','⁶','⁷','⁸','⁹','¹⁰','¹¹','¹²','¹³'][round(log(datum.value)/LN2)]", "title": "Optimization time (in seconds)"}},
  "color": {"field": "s", "type": "nominal", "scale": {"domain": ["RND","DAUB","BLDS(2)","CMAB","BLDS(1)","Hyperband"], "range": ["#808080","#0a4f0a","#ff7f0e","#00ffff","#e00000","#0a3de0"]}, "legend": {"title": null, "orient": "top", "columns": 3}}},
 "layer": [
  {"mark": {"type": "area", "opacity": 0.3, "clip": true},
   "encoding": {"y": {"field": "lo", "type": "quantitative", "scale": {"type": "log", "base": 2, "domain": [0.01541, 1.219], "nice": false}, "axis": {"values": [1, 0.5, 0.25, 0.125, 0.0625, 0.03125, 0.015625], "labelExpr": "'2' + ['⁰','⁻¹','⁻²','⁻³','⁻⁴','⁻⁵','⁻⁶','⁻⁷'][round(-log(datum.value)/LN2)]", "title": "Median Objective"}},
    "y2": {"field": "hi"}}},
  {"mark": {"type": "line", "strokeWidth": 5.5, "clip": true, "strokeJoin": "round"},
   "encoding": {"y": {"field": "y", "type": "quantitative", "scale": {"type": "log", "base": 2, "domain": [0.01541, 1.219], "nice": false}, "axis": {"values": [1, 0.5, 0.25, 0.125, 0.0625, 0.03125, 0.015625], "labelExpr": "'2' + ['⁰','⁻¹','⁻²','⁻³','⁻⁴','⁻⁵','⁻⁶','⁻⁷'][round(-log(datum.value)/LN2)]", "title": "Median Objective"}}}}
 ]},
{"width": 653, "height": 564, "title": {"text": "(d) ADULT"},
 "transform": [{"filter": "datum.p === 'd'"}],
 "encoding": {"x": {"field": "t", "type": "quantitative", "scale": {"type": "log", "base": 2, "domain": [0.642, 11190], "nice": false}, "axis": {"values": [2, 8, 32, 128, 512, 2048, 8192], "labelExpr": "'2' + ['⁰','¹','²','³','⁴','⁵','⁶','⁷','⁸','⁹','¹⁰','¹¹','¹²','¹³'][round(log(datum.value)/LN2)]", "title": "Optimization time (in seconds)"}},
  "color": {"field": "s", "type": "nominal", "scale": {"domain": ["RND","DAUB","BLDS(2)","CMAB","BLDS(1)","Hyperband"], "range": ["#808080","#0a4f0a","#ff7f0e","#00ffff","#e00000","#0a3de0"]}, "legend": {"title": null, "orient": "top", "columns": 3}}},
 "layer": [
  {"mark": {"type": "area", "opacity": 0.3, "clip": true},
   "encoding": {"y": {"field": "lo", "type": "quantitative", "scale": {"type": "log", "base": 2, "domain": [0.0764, 1.127], "nice": false}, "axis": {"values": [1, 0.5, 0.25, 0.125], "labelExpr": "'2' + ['⁰','⁻¹','⁻²','⁻³','⁻⁴','⁻⁵','⁻⁶','⁻⁷'][round(-log(datum.value)/LN2)]", "title": "Median Objective"}},
    "y2": {"field": "hi"}}},
  {"mark": {"type": "line", "strokeWidth": 5.5, "clip": true, "strokeJoin": "round"},
   "encoding": {"y": {"field": "y", "type": "quantitative", "scale": {"type": "log", "base": 2, "domain": [0.0764, 1.127], "nice": false}, "axis": {"values": [1, 0.5, 0.25, 0.125], "labelExpr": "'2' + ['⁰','⁻¹','⁻²','⁻³','⁻⁴','⁻⁵','⁻⁶','⁻⁷'][round(-log(datum.value)/LN2)]", "title": "Median Objective"}}}}
 ]},
{"width": 653, "height": 564, "title": {"text": "(e) GUILLERMO"},
 "transform": [{"filter": "datum.p === 'e'"}],
 "encoding": {"x": {"field": "t", "type": "quantitative", "scale": {"type": "log", "base": 2, "domain": [0.642, 11190], "nice": false}, "axis": {"values": [2, 8, 32, 128, 512, 2048, 8192], "labelExpr": "'2' + ['⁰','¹','²','³','⁴','⁵','⁶','⁷','⁸','⁹','¹⁰','¹¹','¹²','¹³'][round(log(datum.value)/LN2)]", "title": "Optimization time (in seconds)"}},
  "color": {"field": "s", "type": "nominal", "scale": {"domain": ["RND","DAUB","BLDS(2)","CMAB","BLDS(1)","Hyperband"], "range": ["#808080","#0a4f0a","#ff7f0e","#00ffff","#e00000","#0a3de0"]}, "legend": {"title": null, "orient": "top", "columns": 3}}},
 "layer": [
  {"mark": {"type": "area", "opacity": 0.3, "clip": true},
   "encoding": {"y": {"field": "lo", "type": "quantitative", "scale": {"type": "log", "base": 2, "domain": [0.089, 1.12], "nice": false}, "axis": {"values": [1, 0.5, 0.25, 0.125], "labelExpr": "'2' + ['⁰','⁻¹','⁻²','⁻³','⁻⁴','⁻⁵','⁻⁶','⁻⁷'][round(-log(datum.value)/LN2)]", "title": "Median Objective"}},
    "y2": {"field": "hi"}}},
  {"mark": {"type": "line", "strokeWidth": 5.5, "clip": true, "strokeJoin": "round"},
   "encoding": {"y": {"field": "y", "type": "quantitative", "scale": {"type": "log", "base": 2, "domain": [0.089, 1.12], "nice": false}, "axis": {"values": [1, 0.5, 0.25, 0.125], "labelExpr": "'2' + ['⁰','⁻¹','⁻²','⁻³','⁻⁴','⁻⁵','⁻⁶','⁻⁷'][round(-log(datum.value)/LN2)]", "title": "Median Objective"}}}}
 ]},
{"width": 653, "height": 564, "title": {"text": "(f) NOMAO"},
 "transform": [{"filter": "datum.p === 'f'"}],
 "encoding": {"x": {"field": "t", "type": "quantitative", "scale": {"type": "log", "base": 2, "domain": [0.642, 11190], "nice": false}, "axis": {"values": [2, 8, 32, 128, 512, 2048, 8192], "labelExpr": "'2' + ['⁰','¹','²','³','⁴','⁵','⁶','⁷','⁸','⁹','¹⁰','¹¹','¹²','¹³'][round(log(datum.value)/LN2)]", "title": "Optimization time (in seconds)"}},
  "color": {"field": "s", "type": "nominal", "scale": {"domain": ["RND","DAUB","BLDS(2)","CMAB","BLDS(1)","Hyperband"], "range": ["#808080","#0a4f0a","#ff7f0e","#00ffff","#e00000","#0a3de0"]}, "legend": {"title": null, "orient": "top", "columns": 3}}},
 "layer": [
  {"mark": {"type": "area", "opacity": 0.3, "clip": true},
   "encoding": {"y": {"field": "lo", "type": "quantitative", "scale": {"type": "log", "base": 2, "domain": [0.00471, 1.283], "nice": false}, "axis": {"values": [1, 0.5, 0.25, 0.125, 0.0625, 0.03125, 0.015625, 0.0078125], "labelExpr": "'2' + ['⁰','⁻¹','⁻²','⁻³','⁻⁴','⁻⁵','⁻⁶','⁻⁷'][round(-log(datum.value)/LN2)]", "title": "Median Objective"}},
    "y2": {"field": "hi"}}},
  {"mark": {"type": "line", "strokeWidth": 5.5, "clip": true, "strokeJoin": "round"},
   "encoding": {"y": {"field": "y", "type": "quantitative", "scale": {"type": "log", "base": 2, "domain": [0.00471, 1.283], "nice": false}, "axis": {"values": [1, 0.5, 0.25, 0.125, 0.0625, 0.03125, 0.015625, 0.0078125], "labelExpr": "'2' + ['⁰','⁻¹','⁻²','⁻³','⁻⁴','⁻⁵','⁻⁶','⁻⁷'][round(-log(datum.value)/LN2)]", "title": "Median Objective"}}}}
 ]}
],
"config": {
 "view": {"stroke": "black", "strokeWidth": 1.5},
 "axis": {"grid": false, "domain": false, "ticks": true, "tickColor": "black", "tickSize": 6, "tickWidth": 1.3, "labelColor": "black", "labelFont": "DejaVu Sans Condensed", "labelFontSize": 25, "labelPadding": 5, "labelFlush": false, "labelOverlap": false, "titleColor": "black", "titleFont": "DejaVu Sans Condensed", "titleFontSize": 31, "titleFontWeight": "normal"},
 "axisX": {"titlePadding": 9},
 "axisY": {"titleFont": "DejaVu Sans", "titleFontSize": 35, "titlePadding": 1},
 "title": {"orient": "bottom", "anchor": "middle", "frame": "bounds", "font": "DejaVu Serif", "fontSize": 63, "fontWeight": "normal", "color": "black", "offset": 70},
 "legend": {"offset": 9, "symbolType": "stroke", "symbolStrokeWidth": 6, "symbolSize": 1444, "symbolOpacity": 1, "labelFont": "DejaVu Sans Condensed", "labelFontSize": 19, "labelColor": "black", "labelOffset": 10, "columnPadding": 14, "rowPadding": -7}
}
}
